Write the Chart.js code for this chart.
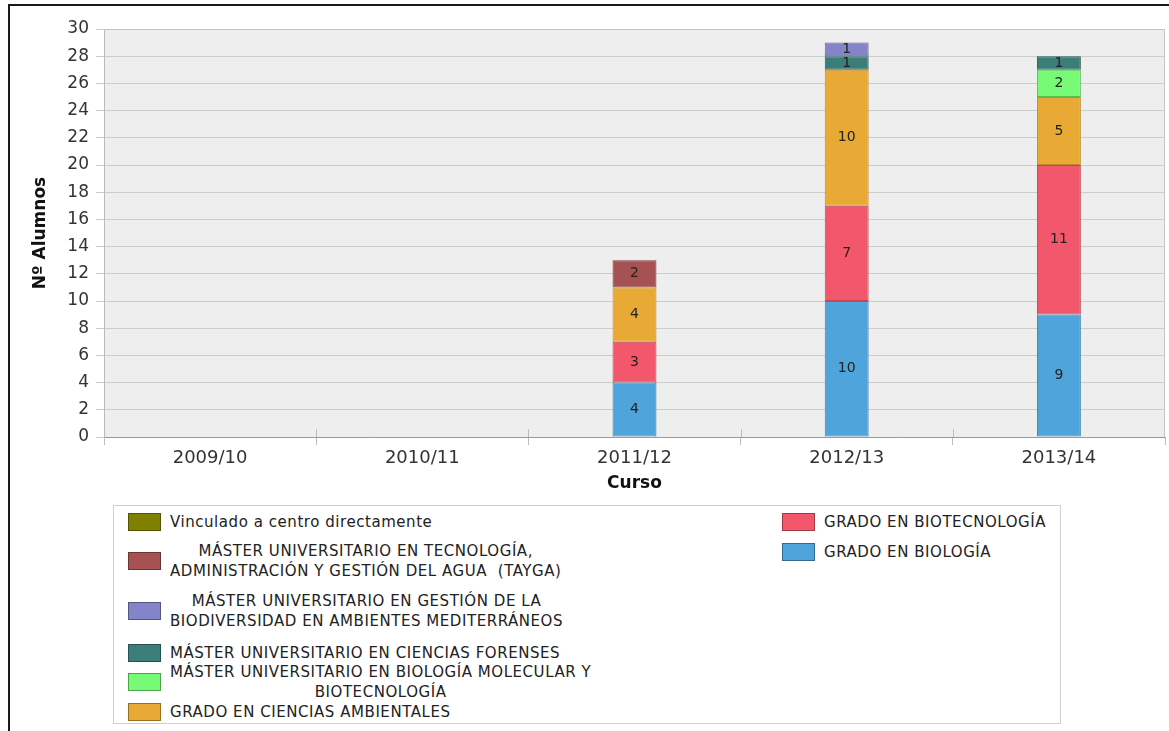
<!DOCTYPE html>
<html>
<head>
<meta charset="utf-8">
<script src="https://cdn.jsdelivr.net/npm/chart.js@4.4.0/dist/chart.umd.min.js"></script>
<style>
  body { margin: 0; background: #fff; font-family: "DejaVu Sans", sans-serif; }
  #wrap { position: relative; width: 1169px; height: 731px; overflow: hidden; }
  #frame { position: absolute; left: 8px; top: 4px; width: 1200px; height: 800px; border-left: 2px solid #1a1a1a; border-top: 2px solid #1a1a1a; }
  canvas { position: absolute; left: 0; top: 0; }
  #legend { position: absolute; left: 113px; top: 505px; width: 946px; height: 217px; border: 1px solid #cfcfcf; background: #fff; }
  .item { position: absolute; display: flex; align-items: center; }
  .sw { width: 33px; height: 18px; border: 1px solid rgba(0,0,0,0.35); box-sizing: border-box; margin-right: 9px; flex: none; }
  .txt { font-size: 15px; letter-spacing: 0.55px; line-height: 20px; color: #222; text-align: center; white-space: pre; }
</style>
</head>
<body>
<div id="wrap">
  <div id="frame"></div>
  <canvas id="chart" width="1169" height="731"></canvas>
  <div id="legend"></div>
</div>
<script>
const cursos = ['2009/10', '2010/11', '2011/12', '2012/13', '2013/14'];

// series, bottom of the stack first
const gradoBiologia      = [0, 0, 4, 10, 9];
const gradoBiotecnologia = [0, 0, 3, 7, 11];
const gradoAmbientales   = [0, 0, 4, 10, 5];
const masterMolecular    = [0, 0, 0, 0, 2];
const masterForenses     = [0, 0, 0, 1, 1];
const masterBiodiv       = [0, 0, 0, 1, 0];
const masterTayga        = [0, 0, 2, 0, 0];
const vinculado          = [0, 0, 0, 0, 0];

const yTicks = [0, 2, 4, 6, 8, 10, 12, 14, 16, 18, 20, 22, 24, 26, 28, 30];

const series = [
    { name: 'GRADO EN BIOLOGÍA', data: gradoBiologia, color: '#4fa4db', border: '#3a80b0' },
    { name: 'GRADO EN BIOTECNOLOGÍA', data: gradoBiotecnologia, color: '#f3576b', border: '#c44456' },
    { name: 'GRADO EN CIENCIAS AMBIENTALES', data: gradoAmbientales, color: '#e9aa35', border: '#c08a26' },
    { name: 'MÁSTER UNIVERSITARIO EN BIOLOGÍA MOLECULAR Y\nBIOTECNOLOGÍA', data: masterMolecular, color: '#77fb77', border: '#55c055' },
    { name: 'MÁSTER UNIVERSITARIO EN CIENCIAS FORENSES', data: masterForenses, color: '#3b7e79', border: '#2a5b57' },
    { name: 'MÁSTER UNIVERSITARIO EN GESTIÓN DE LA\nBIODIVERSIDAD EN AMBIENTES MEDITERRÁNEOS', data: masterBiodiv, color: '#8484c8', border: '#6464a4' },
    { name: 'MÁSTER UNIVERSITARIO EN TECNOLOGÍA,\nADMINISTRACIÓN Y GESTIÓN DEL AGUA  (TAYGA)', data: masterTayga, color: '#a65252', border: '#7d3a3a' },
    { name: 'Vinculado a centro directamente', data: vinculado, color: '#808000', border: '#5c5c00' }
];

const plotBg = {
    id: 'plotBg',
    beforeDraw(chart) {
        const a = chart.chartArea, ctx = chart.ctx;
        ctx.save();
        ctx.fillStyle = '#eeeeee';
        ctx.fillRect(a.left, a.top, a.width, a.height);
        ctx.restore();
    },
    beforeDatasetsDraw(chart) {
        const a = chart.chartArea, ctx = chart.ctx;
        const x = chart.scales.x;
        ctx.save();
        ctx.strokeStyle = '#c4c4c4';
        ctx.lineWidth = 1;
        ctx.beginPath();
        ctx.moveTo(a.left, a.top + 0.5);
        ctx.lineTo(a.right - 0.5, a.top + 0.5);
        ctx.lineTo(a.right - 0.5, a.bottom);
        ctx.stroke();
        // small marks inside the plot at category boundaries
        const w = x.width / cursos.length;
        ctx.strokeStyle = '#bdbdbd';
        for (let i = 1; i < cursos.length; i++) {
            const px = Math.round(x.left + i * w) + 0.5;
            ctx.beginPath();
            ctx.moveTo(px, a.bottom);
            ctx.lineTo(px, a.bottom - 8);
            ctx.stroke();
        }
        ctx.restore();
    }
};

const barLabels = {
    id: 'barLabels',
    afterDatasetsDraw(chart) {
        const ctx = chart.ctx;
        ctx.save();
        ctx.font = '14px "DejaVu Sans"';
        ctx.fillStyle = '#222';
        ctx.textAlign = 'center';
        ctx.textBaseline = 'middle';
        chart.data.datasets.forEach((ds, i) => {
            const meta = chart.getDatasetMeta(i);
            meta.data.forEach((bar, j) => {
                const v = ds.data[j];
                if (!v) return;
                ctx.fillText(String(v), bar.x, (bar.y + bar.base) / 2);
            });
        });
        ctx.restore();
    }
};

new Chart(document.getElementById('chart'), {
    type: 'bar',
    data: {
        labels: cursos,
        datasets: series.map(s => ({
            label: s.name.replace('\n', ' '),
            data: s.data.map(v => v || null),
            backgroundColor: s.color,
            borderColor: s.border,
            borderWidth: 1,
            borderSkipped: false,
            categoryPercentage: 1,
            barPercentage: 0.207
        }))
    },
    options: {
        responsive: false,
        animation: false,
        layout: { padding: { left: 9, top: 29, right: 4, bottom: 234 } },
        plugins: {
            legend: { display: false },
            tooltip: { enabled: false }
        },
        scales: {
            x: {
                stacked: true,
                afterFit: s => { s.height = 60; },
                grid: { display: true, drawOnChartArea: false, offset: true, color: '#bdbdbd', tickLength: 8 },
                border: { color: '#999999' },
                ticks: { color: '#333', font: { family: 'DejaVu Sans', size: 18 }, padding: 3 },
                title: { display: true, text: 'Curso', color: '#111', font: { family: 'DejaVu Sans', size: 17, weight: 'bold' }, padding: { top: 0, bottom: 3 } }
            },
            y: {
                stacked: true,
                min: yTicks[0],
                max: yTicks[yTicks.length - 1],
                afterFit: s => { s.width = 95; },
                afterBuildTicks: s => { s.ticks = yTicks.map(v => ({ value: v })); },
                grid: { color: '#cccccc', tickLength: 8 },
                border: { color: '#bbbbbb' },
                ticks: { color: '#333', font: { family: 'DejaVu Sans', size: 17 }, padding: 7 },
                title: { display: true, text: 'Nº Alumnos', color: '#111', font: { family: 'DejaVu Sans', size: 17, weight: 'bold' }, padding: { top: 21, bottom: 0 } }
            }
        }
    },
    plugins: [plotBg, barLabels]
});

// legend box, laid out like the original (left, top inside the box)
const legendPos = {
    'GRADO EN BIOLOGÍA': [668, 36],
    'GRADO EN BIOTECNOLOGÍA': [668, 6],
    'GRADO EN CIENCIAS AMBIENTALES': [14, 196],
    'MÁSTER UNIVERSITARIO EN BIOLOGÍA MOLECULAR Y\nBIOTECNOLOGÍA': [14, 156],
    'MÁSTER UNIVERSITARIO EN CIENCIAS FORENSES': [14, 137],
    'MÁSTER UNIVERSITARIO EN GESTIÓN DE LA\nBIODIVERSIDAD EN AMBIENTES MEDITERRÁNEOS': [14, 85],
    'MÁSTER UNIVERSITARIO EN TECNOLOGÍA,\nADMINISTRACIÓN Y GESTIÓN DEL AGUA  (TAYGA)': [14, 35],
    'Vinculado a centro directamente': [14, 6]
};
const legend = document.getElementById('legend');
series.forEach(s => {
    const pos = legendPos[s.name];
    const item = document.createElement('div');
    item.className = 'item';
    item.style.left = pos[0] + 'px';
    item.style.top = pos[1] + 'px';
    const sw = document.createElement('div');
    sw.className = 'sw';
    sw.style.background = s.color;
    const txt = document.createElement('div');
    txt.className = 'txt';
    txt.textContent = s.name;
    item.appendChild(sw);
    item.appendChild(txt);
    legend.appendChild(item);
});
</script>
</body>
</html>
